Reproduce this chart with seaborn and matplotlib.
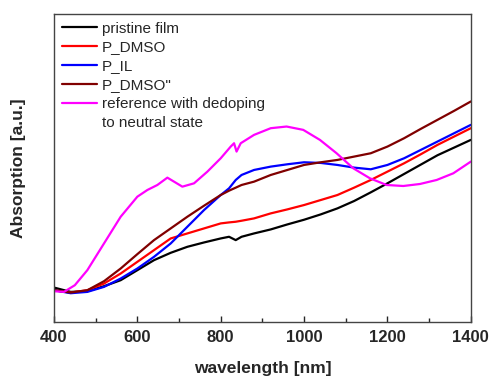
import pandas as pd
import numpy as np
import matplotlib.pyplot as plt
from matplotlib.ticker import MultipleLocator
import seaborn as sns

# Values (arbitrary absorption units)
wavelength = [400, 440, 480, 520, 560, 600, 640, 680, 720, 760, 800, 820, 836, 850,
              880, 920, 960, 1000, 1040, 1080, 1120, 1160, 1200, 1240, 1280, 1320,
              1360, 1400]
pristine = [103, 90, 92, 107, 125, 155, 185, 207, 225, 238, 250, 255, 245, 255,
            265, 277, 292, 306, 322, 340, 362, 388, 415, 443, 471, 499, 522, 545]
p_dmso = [95, 88, 95, 115, 145, 180, 215, 250, 265, 280, 295, 298, 300, 303,
          310, 325, 337, 350, 365, 380, 402, 425, 450, 475, 502, 530, 555, 580]
p_il = [95, 86, 90, 105, 130, 160, 195, 235, 285, 335, 380, 400, 425, 440,
        455, 465, 472, 478, 476, 470, 462, 457, 470, 490, 515, 540, 565, 590]
p_dmso2 = [95, 88, 95, 122, 160, 203, 245, 280, 315, 348, 380, 393, 402, 410,
           420, 440, 455, 470, 478, 485, 495, 505, 525, 550, 578, 605, 632, 660]

wavelength_ref = [400, 424, 450, 480, 520, 560, 600, 624, 648, 672, 688, 708, 736,
                  768, 800, 824, 832, 838, 848, 880, 920, 958, 998, 1038, 1078,
                  1118, 1158, 1198, 1238, 1278, 1318, 1358, 1400]
reference = [92, 90, 110, 155, 235, 315, 375, 395, 410, 432, 420, 405, 415,
             450, 490, 525, 535, 510, 535, 560, 580, 585, 575, 545, 505,
             460, 430, 410, 407, 413, 425, 445, 480]

labels = ['pristine film', 'P_DMSO', 'P_IL', 'P_DMSO"', 'reference with dedoping']
colors = ['black', '#ff0000', '#0000ff', '#800000', '#ff00ff']

sns.set_style("white")
plt.rcParams['font.family'] = ['Liberation Sans', 'DejaVu Sans']

fig = plt.figure(figsize=(4.93, 3.77), dpi=100)
ax = fig.add_axes([0.1095, 0.146, 0.8455, 0.817])

series = [(wavelength, pristine), (wavelength, p_dmso), (wavelength, p_il),
          (wavelength, p_dmso2), (wavelength_ref, reference)]
for (x, y), lab, c in zip(series, labels, colors):
    sns.lineplot(x=x, y=y, color=c, lw=1.6, label=lab, ax=ax, sort=False)

# second line of the magenta legend entry
ax.plot([], [], color='none', label='to neutral state')

ax.set_xlim(400, 1400)
ax.set_ylim(0, 922)
ax.xaxis.set_major_locator(MultipleLocator(200))
ax.xaxis.set_minor_locator(MultipleLocator(100))
ax.set_yticks([])
ax.tick_params(axis='x', which='both', direction='in', bottom=True, top=False)
ax.tick_params(axis='x', which='major', length=4, width=1, pad=6, labelsize=12)
ax.tick_params(axis='x', which='minor', length=3, width=1)
for lbl in ax.get_xticklabels():
    lbl.set_fontweight('bold')

for sp in ax.spines.values():
    sp.set_color('#444444')
    sp.set_linewidth(1)

ax.set_xlabel('wavelength [nm]', fontsize=12.5, fontweight='bold', labelpad=11)
ax.set_ylabel('Absorption [a.u.]', fontsize=12.5, fontweight='bold', labelpad=20)

ax.legend(loc='upper left', frameon=False, fontsize=11, handlelength=2.3,
          handletextpad=0.35, labelspacing=0.32, borderaxespad=0.1, borderpad=0.4)

fig.savefig('out.png', dpi=100)
